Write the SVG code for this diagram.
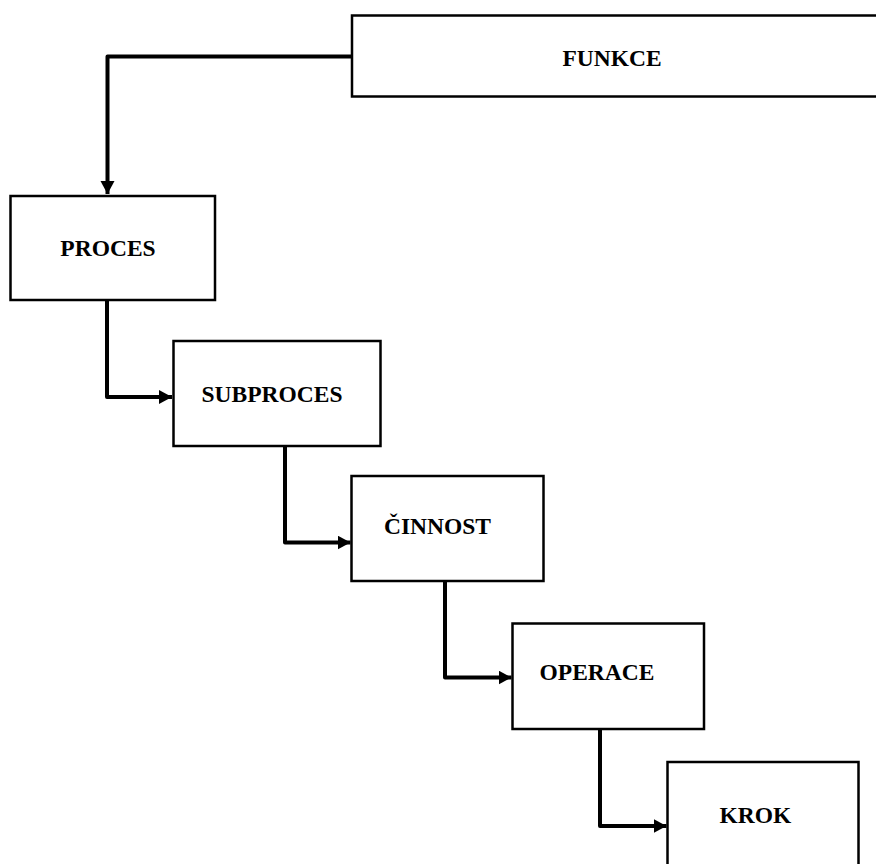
<svg xmlns="http://www.w3.org/2000/svg" width="876" height="864" viewBox="0 0 876 864">
<style>
.box{fill:#fff;stroke:#000;stroke-width:2.5}
.lbl{font-family:"Liberation Serif","Times New Roman",serif;font-weight:bold;font-size:23.5px;fill:#000;text-anchor:middle}
.con{fill:none;stroke:#000;stroke-width:4;stroke-linejoin:round}
</style>
<defs>
<marker id="ah" markerUnits="userSpaceOnUse" markerWidth="15" markerHeight="15" refX="13" refY="7" orient="auto">
<path d="M0,0 L13,7 L0,14 Z" fill="#000"/>
</marker>
</defs>
<rect width="876" height="864" fill="#fff"/>
<g id="connectors">
<path class="con" d="M352,56.5 H107.5 V194" marker-end="url(#ah)"/>
<path class="con" d="M107,300 V397 H172" marker-end="url(#ah)"/>
<path class="con" d="M285,446 V542.5 H350.5" marker-end="url(#ah)"/>
<path class="con" d="M445,581 V677.5 H511.5" marker-end="url(#ah)"/>
<path class="con" d="M600,729 V826 H666.5" marker-end="url(#ah)"/>
</g>
<g id="funkce">
<rect class="box" x="352" y="15.5" width="540" height="81"/>
<text class="lbl" x="612" y="65.5">FUNKCE</text>
</g>
<g id="proces">
<rect class="box" x="10.5" y="196" width="204.5" height="104"/>
<text class="lbl" x="108" y="256">PROCES</text>
</g>
<g id="subproces">
<rect class="box" x="173.5" y="341" width="207" height="105"/>
<text class="lbl" x="272" y="401.5">SUBPROCES</text>
</g>
<g id="cinnost">
<rect class="box" x="351.5" y="476" width="192" height="105"/>
<text class="lbl" x="437.5" y="534">ČINNOST</text>
</g>
<g id="operace">
<rect class="box" x="512.5" y="623.5" width="191.5" height="105.5"/>
<text class="lbl" x="597" y="680">OPERACE</text>
</g>
<g id="krok">
<rect class="box" x="667.5" y="762" width="191" height="110"/>
<text class="lbl" x="755.5" y="822.5">KROK</text>
</g>
</svg>
